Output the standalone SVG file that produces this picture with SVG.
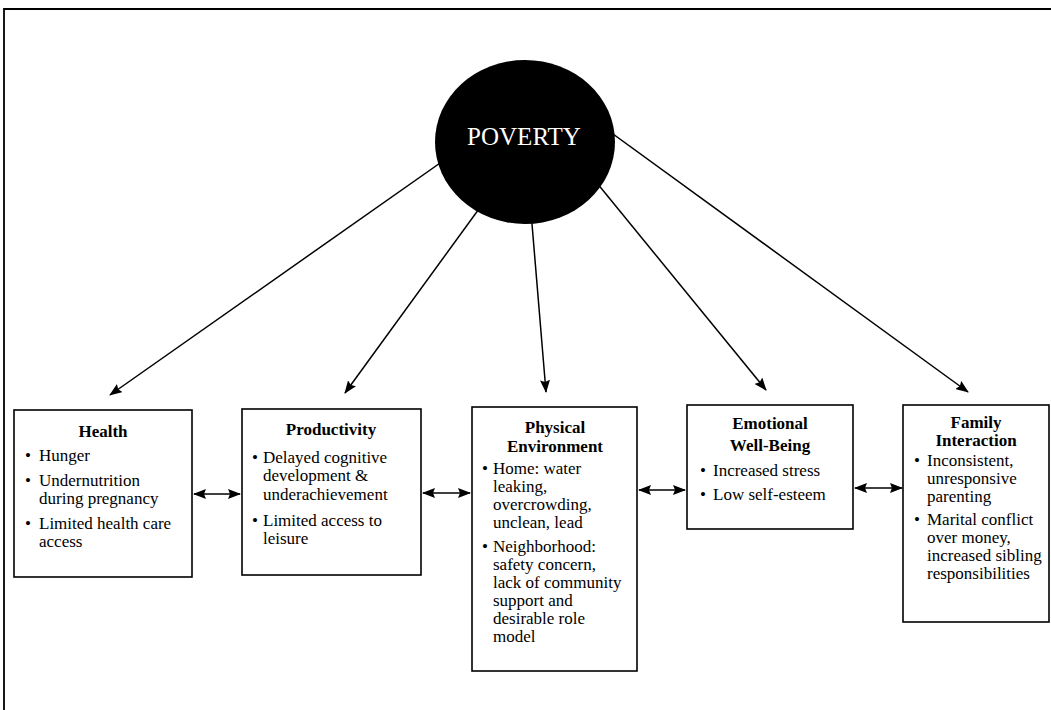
<svg xmlns="http://www.w3.org/2000/svg" width="1051" height="710" viewBox="0 0 1051 710">
<style>
.box{fill:#fff;stroke:#000;stroke-width:1.6}
.t{font-family:"Liberation Serif","Times New Roman",serif;font-size:17px;fill:#000}
.h{font-weight:bold;text-anchor:middle}
.ln{stroke:#000;stroke-width:1.5;fill:none}
</style>
<defs>
<marker id="ah" viewBox="0 0 13 10" refX="12" refY="5" markerWidth="13" markerHeight="10" markerUnits="userSpaceOnUse" orient="auto-start-reverse">
<path d="M0,0 L13,5 L0,10 L2,5 z" fill="#000"/>
</marker>
</defs>
<rect width="1051" height="710" fill="#fff"/>
<path d="M4,710 L4,9 L1051,9" fill="none" stroke="#000" stroke-width="1.8"/>
<g id="connectors">
<line class="ln" x1="470" y1="142" x2="110" y2="395" marker-end="url(#ah)"/>
<line class="ln" x1="500" y1="180" x2="345" y2="393" marker-end="url(#ah)"/>
<line class="ln" x1="530" y1="200" x2="546" y2="392" marker-end="url(#ah)"/>
<line class="ln" x1="570" y1="150" x2="766" y2="390" marker-end="url(#ah)"/>
<line class="ln" x1="580" y1="110" x2="968" y2="392" marker-end="url(#ah)"/>
<line class="ln" x1="194" y1="494" x2="240" y2="494" marker-start="url(#ah)" marker-end="url(#ah)"/>
<line class="ln" x1="423" y1="493" x2="470" y2="493" marker-start="url(#ah)" marker-end="url(#ah)"/>
<line class="ln" x1="639" y1="490" x2="685" y2="490" marker-start="url(#ah)" marker-end="url(#ah)"/>
<line class="ln" x1="855" y1="488" x2="902" y2="488" marker-start="url(#ah)" marker-end="url(#ah)"/>
</g>
<g id="poverty">
<ellipse cx="525" cy="142" rx="90" ry="82" fill="#000"/>
<text x="524" y="145" font-family="Liberation Serif,Times New Roman,serif" font-size="25" fill="#fff" text-anchor="middle">POVERTY</text>
</g>
<g id="health">
<rect class="box" x="14" y="410" width="178" height="167"/>
<text class="t h" x="103" y="437">Health</text>
<text class="t" x="25" y="461">•</text><text class="t" x="39" y="461">Hunger</text>
<text class="t" x="25" y="486">•</text><text class="t" x="39" y="486">Undernutrition</text>
<text class="t" x="39" y="504">during pregnancy</text>
<text class="t" x="25" y="529">•</text><text class="t" x="39" y="529">Limited health care</text>
<text class="t" x="39" y="547">access</text>
</g>
<g id="productivity">
<rect class="box" x="242" y="409" width="179" height="166"/>
<text class="t h" x="331" y="435">Productivity</text>
<text class="t" x="252" y="463">•</text><text class="t" x="263" y="463">Delayed cognitive</text>
<text class="t" x="263" y="481">development &amp;</text>
<text class="t" x="263" y="500">underachievement</text>
<text class="t" x="252" y="526">•</text><text class="t" x="263" y="526">Limited access to</text>
<text class="t" x="263" y="544">leisure</text>
</g>
<g id="physical">
<rect class="box" x="472" y="407" width="165" height="264"/>
<text class="t h" x="555" y="433">Physical</text>
<text class="t h" x="555" y="452">Environment</text>
<text class="t" x="482" y="474">•</text><text class="t" x="493" y="474">Home: water</text>
<text class="t" x="493" y="492">leaking,</text>
<text class="t" x="493" y="510">overcrowding,</text>
<text class="t" x="493" y="528">unclean, lead</text>
<text class="t" x="482" y="552">•</text><text class="t" x="493" y="552">Neighborhood:</text>
<text class="t" x="493" y="570">safety concern,</text>
<text class="t" x="493" y="588">lack of community</text>
<text class="t" x="493" y="606">support and</text>
<text class="t" x="493" y="624">desirable role</text>
<text class="t" x="493" y="642">model</text>
</g>
<g id="emotional">
<rect class="box" x="687" y="405" width="166" height="124"/>
<text class="t h" x="770" y="429">Emotional</text>
<text class="t h" x="770" y="451">Well-Being</text>
<text class="t" x="700" y="476">•</text><text class="t" x="713" y="476">Increased stress</text>
<text class="t" x="700" y="500">•</text><text class="t" x="713" y="500">Low self-esteem</text>
</g>
<g id="family">
<rect class="box" x="903" y="405" width="146" height="217"/>
<text class="t h" x="976" y="428">Family</text>
<text class="t h" x="976" y="446">Interaction</text>
<text class="t" x="914" y="466">•</text><text class="t" x="927" y="466">Inconsistent,</text>
<text class="t" x="927" y="484">unresponsive</text>
<text class="t" x="927" y="502">parenting</text>
<text class="t" x="914" y="525">•</text><text class="t" x="927" y="525">Marital conflict</text>
<text class="t" x="927" y="543">over money,</text>
<text class="t" x="927" y="561">increased sibling</text>
<text class="t" x="927" y="579">responsibilities</text>
</g>
</svg>
